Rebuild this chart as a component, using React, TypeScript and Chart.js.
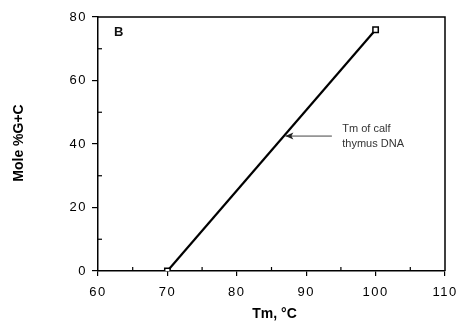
import React, { useEffect, useRef } from "react";
import { Chart, registerables } from "chart.js";

Chart.register(...registerables);

const tmValues = [70, 100];
const gcValues = [0, 76];
const xTickRange = [60, 110];
const yTickRange = [0, 80];
const panelLabel = "B";
const panelLabelPos = [62.3, 75];
const noteLines = ["Tm of calf", "thymus DNA"];
const arrowTip = [87.0, 42.5];
const arrowTailX = 93.7;
const noteX = 95.2;
const xTitle = "Tm, °C";
const yTitle = "Mole %G+C";

const FONT = "'Liberation Sans', Arial, sans-serif";

const framePlugin = {
  id: "frame",
  beforeDraw(chart: any) {
    chart.ctx.letterSpacing = "1.5px";
  },
  afterDatasetsDraw(chart: any) {
    const ctx = chart.ctx;
    const { left, right, top, bottom } = chart.chartArea;
    const xs = chart.scales.x;
    const ys = chart.scales.y;
    ctx.save();
    ctx.letterSpacing = "0px";
    ctx.strokeStyle = "#000";
    ctx.lineWidth = 1.5;
    ctx.beginPath();
    ctx.moveTo(left, top);
    ctx.lineTo(right, top);
    ctx.lineTo(right, bottom);
    ctx.stroke();
    // minor ticks
    ctx.lineWidth = 1.2;
    const xt = xs.ticks.map((t: any) => t.value);
    for (let i = 0; i < xt.length - 1; i++) {
      const px = xs.getPixelForValue((xt[i] + xt[i + 1]) / 2);
      ctx.beginPath();
      ctx.moveTo(px, bottom);
      ctx.lineTo(px, bottom - 4);
      ctx.stroke();
    }
    const yt = ys.ticks.map((t: any) => t.value);
    for (let i = 0; i < yt.length - 1; i++) {
      const py = ys.getPixelForValue((yt[i] + yt[i + 1]) / 2);
      ctx.beginPath();
      ctx.moveTo(left, py);
      ctx.lineTo(left + 4, py);
      ctx.stroke();
    }
    // axis titles
    ctx.fillStyle = "#000";
    ctx.font = `bold 14px ${FONT}`;
    ctx.textAlign = "center";
    ctx.textBaseline = "middle";
    ctx.fillText(xTitle, (left + right) / 2 + 3, chart.height - 9);
    ctx.save();
    ctx.translate(19, (top + bottom) / 2 - 1);
    ctx.rotate(-Math.PI / 2);
    ctx.fillText(yTitle, 0, 0);
    ctx.restore();
    // panel label
    ctx.fillStyle = "#111";
    ctx.font = `bold 13px ${FONT}`;
    ctx.textAlign = "left";
    ctx.textBaseline = "middle";
    ctx.fillText(panelLabel, xs.getPixelForValue(panelLabelPos[0]), ys.getPixelForValue(panelLabelPos[1]));
    // arrow
    const tx = xs.getPixelForValue(arrowTip[0]);
    const ty = ys.getPixelForValue(arrowTip[1]);
    const ax = xs.getPixelForValue(arrowTailX);
    ctx.strokeStyle = "#444";
    ctx.lineWidth = 1;
    ctx.beginPath();
    ctx.moveTo(ax, ty);
    ctx.lineTo(tx, ty);
    ctx.stroke();
    ctx.fillStyle = "#222";
    ctx.beginPath();
    ctx.moveTo(tx, ty);
    ctx.lineTo(tx + 8, ty - 3.5);
    ctx.lineTo(tx + 6, ty);
    ctx.lineTo(tx + 8, ty + 3.5);
    ctx.closePath();
    ctx.fill();
    // note text
    ctx.fillStyle = "#333";
    ctx.font = `11px ${FONT}`;
    const nx = xs.getPixelForValue(noteX);
    ctx.fillText(noteLines[0], nx, ty - 7);
    ctx.fillText(noteLines[1], nx, ty + 8);
    ctx.restore();
  },
};

export default function App() {
  const ref = useRef<HTMLCanvasElement>(null);
  useEffect(() => {
    document.body.style.margin = "0";
    const chart = new Chart(ref.current!, {
      type: "scatter",
      data: {
        datasets: [
          {
            data: tmValues.map((x, i) => ({ x, y: gcValues[i] })),
            showLine: true,
            borderColor: "#000",
            borderWidth: 2.2,
            pointStyle: "rect",
            pointRadius: 3.8,
            pointBackgroundColor: "#fff",
            pointBorderColor: "#000",
            pointBorderWidth: 1.5,
          },
        ],
      },
      options: {
        animation: false,
        responsive: false,
        devicePixelRatio: 1,
        layout: { padding: { top: 17, right: 16, left: 0, bottom: 0 } },
        plugins: { legend: { display: false }, tooltip: { enabled: false } },
        scales: {
          x: {
            type: "linear",
            min: xTickRange[0],
            max: xTickRange[1],
            ticks: {
              stepSize: 10,
              color: "#000",
              padding: 9,
              font: { family: FONT, size: 13 },
            },
            grid: { drawOnChartArea: false, drawTicks: true, tickLength: 5, color: "#000", lineWidth: 1.2 },
            border: { display: true, color: "#000", width: 1.5 },
            title: { display: false },
            afterFit: (s: any) => {
              s.height = 52;
              s.paddingLeft = 0;
              s.paddingRight = 0;
            },
          },
          y: {
            type: "linear",
            min: yTickRange[0],
            max: yTickRange[1],
            ticks: {
              stepSize: 20,
              color: "#000",
              padding: 5,
              font: { family: FONT, size: 13 },
            },
            grid: { drawOnChartArea: false, drawTicks: true, tickLength: 6, color: "#000", lineWidth: 1.2 },
            border: { display: true, color: "#000", width: 1.5 },
            title: { display: false },
            afterFit: (s: any) => {
              s.width = 98;
              s.paddingTop = 0;
              s.paddingBottom = 0;
            },
          },
        },
      },
      plugins: [framePlugin],
    } as any);
    return () => chart.destroy();
  }, []);
  return (
    <div style={{ width: 461, height: 323 }}>
      <canvas ref={ref} width={461} height={323} style={{ display: "block" }} />
    </div>
  );
}
